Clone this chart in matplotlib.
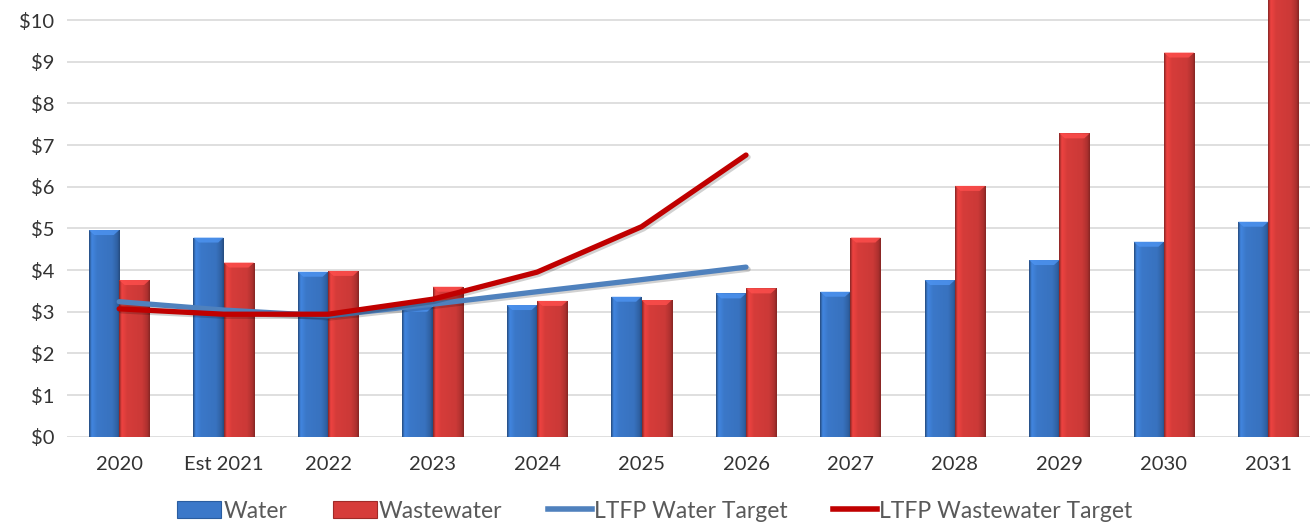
import numpy as np
import matplotlib
matplotlib.use("Agg")
import matplotlib.pyplot as plt
from matplotlib.colors import LinearSegmentedColormap
from matplotlib.patches import Patch, Polygon
from matplotlib.lines import Line2D
import matplotlib.patheffects as pe
from matplotlib.ticker import FuncFormatter, MultipleLocator

# ---- data -------------------------------------------------------------
categories = ["2020", "Est 2021", "2022", "2023", "2024", "2025",
              "2026", "2027", "2028", "2029", "2030", "2031"]
water = [4.96, 4.78, 3.96, 3.12, 3.16, 3.36, 3.44, 3.48, 3.76, 4.24, 4.68, 5.16]
wastewater = [3.76, 4.18, 3.98, 3.60, 3.26, 3.28, 3.56, 4.78, 6.02, 7.28, 9.22, 11.6]
ltfp_water_target = [3.24, 3.04, 2.90, 3.18, 3.48, 3.77, 4.07]
ltfp_wastewater_target = [3.07, 2.94, 2.94, 3.30, 3.95, 5.04, 6.76]

# ---- style ------------------------------------------------------------
plt.rcParams["font.family"] = ["Lato", "DejaVu Sans"]
BLUE = "#3b78c9"
RED = "#d63c3a"
LINE_BLUE = "#4f81bd"
LINE_RED = "#c00000"
GRID = "#d9d9d9"
TEXT = "#333333"

fig = plt.figure(figsize=(13.10, 5.27), dpi=100)
# plot area runs past the right edge of the canvas and up to its top edge
Y_TOP = 10.55
ax = fig.add_axes([0.0511, 0.1713, 0.957, Y_TOP * 41.67 / 527])

x = np.arange(len(categories))
w = 0.29


def shaded_cmap(base, dark_factor=0.62, light_factor=1.12):
    c = np.array(matplotlib.colors.to_rgb(base))
    dark = np.clip(c * dark_factor, 0, 1)
    light = np.clip(c * light_factor, 0, 1)
    return LinearSegmentedColormap.from_list(
        "shade", [(0.0, dark), (0.08, light), (0.25, c), (0.75, c * 0.95),
                  (0.93, c * 0.8), (1.0, dark)])


def shade_bars(bars, base):
    cmap = shaded_cmap(base)
    grad = np.linspace(0, 1, 64).reshape(1, -1)
    c = np.array(matplotlib.colors.to_rgb(base))
    top_col = np.clip(c * 1.15 + 0.04, 0, 1)
    for b in bars:
        x0, y0 = b.get_x(), b.get_y()
        bw, bh = b.get_width(), b.get_height()
        b.set_facecolor("none")
        b.set_edgecolor("none")
        im = ax.imshow(grad, extent=[x0, x0 + bw, y0, y0 + bh], cmap=cmap,
                       aspect="auto", zorder=2, interpolation="bicubic")
        im.set_clip_path(b)
        # bevelled top edge
        bev = 0.12
        inset = bw * 0.18
        ax.add_patch(Polygon([[x0, y0 + bh], [x0 + bw, y0 + bh],
                              [x0 + bw - inset, y0 + bh - bev],
                              [x0 + inset, y0 + bh - bev]],
                             closed=True, facecolor=top_col, edgecolor="none",
                             alpha=0.8, zorder=2.1))


bars_w = ax.bar(x - w / 2, water, width=w, zorder=2)
bars_ww = ax.bar(x + w / 2, wastewater, width=w, zorder=2)
shade_bars(bars_w, BLUE)
shade_bars(bars_ww, RED)

shadow = [pe.SimpleLineShadow(offset=(1.5, -1.5), shadow_color="k", alpha=0.18),
          pe.Normal()]
ax.plot(x[:len(ltfp_water_target)], ltfp_water_target, color=LINE_BLUE,
        lw=3.8, solid_capstyle="round", zorder=4, path_effects=shadow)
ax.plot(x[:len(ltfp_wastewater_target)], ltfp_wastewater_target,
        color=LINE_RED, lw=3.8, solid_capstyle="round", zorder=5,
        path_effects=shadow)

ax.set_xlim(-0.5, len(categories) - 0.5)
ax.set_ylim(0, Y_TOP)
ax.yaxis.set_major_locator(MultipleLocator(1))
ax.yaxis.set_major_formatter(FuncFormatter(lambda v, _: f"${v:.0f}"))
ax.grid(axis="y", color=GRID, lw=1.2, zorder=0)
ax.set_axisbelow(True)
for s in ax.spines.values():
    s.set_visible(False)
ax.set_xticks(x)
ax.set_xticklabels(categories)
ax.tick_params(axis="both", length=0, labelsize=14.5, colors=TEXT)
ax.tick_params(axis="x", pad=14)
ax.tick_params(axis="y", pad=9)

# legend
handles = [
    Patch(facecolor=BLUE, edgecolor="#2a5da0", lw=0.8),
    Patch(facecolor=RED, edgecolor="#a02a28", lw=0.8),
    Line2D([0], [0], color=LINE_BLUE, lw=4),
    Line2D([0], [0], color=LINE_RED, lw=4),
]
labels = ["Water", "Wastewater", "LTFP Water Target", "LTFP Wastewater Target"]
leg = fig.legend(handles, labels, loc="center", bbox_to_anchor=(0.5, 0.03),
                 ncol=4, frameon=False, fontsize=16.5, handlelength=1.9,
                 handleheight=0.8, handletextpad=0.1, columnspacing=2.0)
for t in leg.get_texts():
    t.set_color("#595959")

fig.savefig("out.png", dpi=100)
